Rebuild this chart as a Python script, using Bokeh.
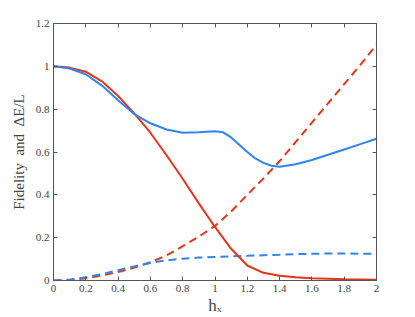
from bokeh.plotting import figure
from bokeh.models import LinearAxis, FixedTicker, CustomJSTickFormatter, Range1d
from bokeh.embed import file_html
from bokeh.resources import INLINE

hx = [0.0, 0.1, 0.2, 0.3, 0.4, 0.5, 0.6, 0.7, 0.8, 0.9, 1.0, 1.1, 1.2, 1.3, 1.4, 1.5, 1.6, 1.7, 1.8, 1.9, 2.0]
fid_red = [1.0, 0.994, 0.975, 0.93, 0.862, 0.78, 0.69, 0.585, 0.475, 0.36, 0.25, 0.148, 0.07, 0.036, 0.022, 0.015, 0.010, 0.008, 0.006, 0.005, 0.004]
hx_b = [0.0, 0.1, 0.2, 0.3, 0.4, 0.5, 0.6, 0.7, 0.8, 0.9, 1.0, 1.05, 1.1, 1.15, 1.2, 1.25, 1.3, 1.35, 1.4, 1.5, 1.6, 1.7, 1.8, 1.9, 2.0]
fid_blue = [1.0, 0.99, 0.963, 0.91, 0.842, 0.777, 0.734, 0.705, 0.690, 0.692, 0.697, 0.692, 0.668, 0.634, 0.600, 0.570, 0.549, 0.536, 0.531, 0.543, 0.563, 0.587, 0.612, 0.637, 0.662]
de_red = [0.0, 0.002, 0.01, 0.024, 0.04, 0.06, 0.085, 0.117, 0.16, 0.205, 0.255, 0.322, 0.40, 0.477, 0.557, 0.647, 0.737, 0.827, 0.917, 1.007, 1.10]
de_blue = [0.0, 0.004, 0.015, 0.03, 0.048, 0.066, 0.082, 0.094, 0.102, 0.107, 0.110, 0.113, 0.115, 0.118, 0.120, 0.123, 0.125, 0.126, 0.126, 0.125, 0.124]

xticks = [0, 0.2, 0.4, 0.6, 0.8, 1.0, 1.2, 1.4, 1.6, 1.8, 2.0]
yticks = [0, 0.2, 0.4, 0.6, 0.8, 1.0, 1.2]

RED = "#e2361a"
BLUE = "#2f84f0"
FONT = "Liberation Serif"
GREY = "#444444"

p = figure(width=413, height=317, output_backend="svg", toolbar_location=None,
           x_range=Range1d(0, 2), y_range=Range1d(0, 1.2),
           min_border_left=53, min_border_right=37, min_border_top=23, min_border_bottom=35,
           x_axis_location=None, y_axis_location=None)
p.grid.visible = False
p.outline_line_color = "#666666"

fmt = CustomJSTickFormatter(code="return String(Math.round(tick*10)/10);")
blank = CustomJSTickFormatter(code="return '';")

def style(ax, labels=True):
    ax.major_tick_in = 4
    ax.major_tick_out = 0
    ax.minor_tick_in = 0
    ax.minor_tick_out = 0
    ax.axis_line_color = "#555555"
    ax.major_tick_line_color = "#555555"
    ax.major_label_text_font = FONT
    ax.major_label_text_font_size = "11px"
    ax.major_label_text_color = GREY
    ax.major_label_standoff = 4
    ax.formatter = fmt if labels else blank
    if not labels:
        ax.major_label_standoff = 0

xb = LinearAxis(ticker=FixedTicker(ticks=xticks))
style(xb)
xb.axis_label = "h\u2093"
xb.axis_label_text_font = FONT
xb.axis_label_text_font_size = "17px"
xb.axis_label_text_font_style = "normal"
xb.axis_label_text_color = GREY
xb.axis_label_standoff = 1

yl = LinearAxis(ticker=FixedTicker(ticks=yticks))
style(yl)
yl.axis_label = "Fidelity\u00a0\u00a0and\u00a0\u00a0\u0394E/L"
yl.axis_label_text_font = FONT
yl.axis_label_text_font_size = "15px"
yl.axis_label_text_font_style = "normal"
yl.axis_label_text_color = GREY
yl.axis_label_standoff = 6

xt = LinearAxis(ticker=FixedTicker(ticks=xticks))
style(xt, False)
yr = LinearAxis(ticker=FixedTicker(ticks=yticks))
style(yr, False)
p.add_layout(xb, "below")
p.add_layout(yl, "left")
p.add_layout(xt, "above")
p.add_layout(yr, "right")

p.line(hx, de_red, line_color=RED, line_width=2, line_dash="8 5")
p.line(hx, de_blue, line_color=BLUE, line_width=2, line_dash="8 5")
p.line(hx, fid_red, line_color=RED, line_width=2)
p.line(hx_b, fid_blue, line_color=BLUE, line_width=2)

open("out.html", "w").write(file_html(p, INLINE))
